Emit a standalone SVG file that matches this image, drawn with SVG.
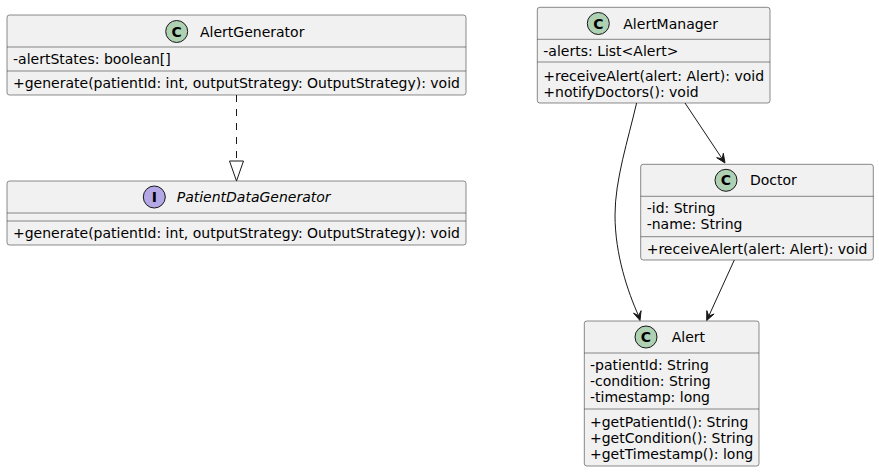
<svg xmlns="http://www.w3.org/2000/svg" width="879" height="472" viewBox="0 0 879 472">
<style>
.box{fill:#F1F1F1;stroke:#181818;stroke-width:0.5}
.sep{stroke:#181818;stroke-width:0.5}
.name{font-family:"DejaVu Sans",sans-serif;font-size:14px;fill:#000}
.mem{font-family:"DejaVu Sans",sans-serif;font-size:14px;fill:#000}
.ci{stroke:#181818;stroke-width:1}
.cl{fill:#ADD1B2}
.it{fill:#B4A7E5}
.glyph{font-family:"DejaVu Sans",sans-serif;font-size:14px;font-weight:bold;fill:#000;text-anchor:middle}
.edge{fill:none;stroke:#181818;stroke-width:1}
.head{fill:#181818;stroke:#181818;stroke-width:1}
</style>
<rect width="879" height="472" fill="#FFFFFF"/>
<g id="AlertGenerator">
<rect class="box" x="7" y="15" width="459" height="80" rx="2.5"/>
<circle class="ci cl" cx="176.7" cy="31.5" r="11"/>
<text class="glyph" x="176.7" y="36.5">C</text>
<text class="name" x="200" y="36.5">AlertGenerator</text>
<line class="sep" x1="7" y1="47" x2="466" y2="47"/>
<text class="mem" x="13" y="64">-alertStates: boolean[]</text>
<line class="sep" x1="7" y1="71" x2="466" y2="71"/>
<text class="mem" x="13" y="88">+generate(patientId: int, outputStrategy: OutputStrategy): void</text>
</g>
<g id="PatientDataGenerator">
<rect class="box" x="7" y="181" width="459" height="64" rx="2.5"/>
<circle class="ci it" cx="154.3" cy="197" r="11"/>
<text class="glyph" x="154.3" y="202">I</text>
<text class="name" x="176.7" y="202" font-style="italic">PatientDataGenerator</text>
<line class="sep" x1="7" y1="213" x2="466" y2="213"/>
<line class="sep" x1="7" y1="221" x2="466" y2="221"/>
<text class="mem" x="13" y="238">+generate(patientId: int, outputStrategy: OutputStrategy): void</text>
</g>
<g id="AlertManager">
<rect class="box" x="537.3" y="7.3" width="232.7" height="95.7" rx="2.5"/>
<circle class="ci cl" cx="598.3" cy="23.5" r="11"/>
<text class="glyph" x="598.3" y="28.5">C</text>
<text class="name" x="623.3" y="28.5">AlertManager</text>
<line class="sep" x1="537.3" y1="39.3" x2="770" y2="39.3"/>
<text class="mem" x="543.3" y="56">-alerts: List&lt;Alert&gt;</text>
<line class="sep" x1="537.3" y1="62" x2="770" y2="62"/>
<text class="mem" x="543.3" y="80.5">+receiveAlert(alert: Alert): void</text>
<text class="mem" x="543.3" y="96.5">+notifyDoctors(): void</text>
</g>
<g id="Doctor">
<rect class="box" x="640.7" y="164.3" width="232.6" height="95.7" rx="2.5"/>
<circle class="ci cl" cx="726" cy="180.3" r="11"/>
<text class="glyph" x="726" y="185.3">C</text>
<text class="name" x="750" y="185.3">Doctor</text>
<line class="sep" x1="640.7" y1="196.3" x2="873.3" y2="196.3"/>
<text class="mem" x="646.7" y="212.8">-id: String</text>
<text class="mem" x="646.7" y="228.8">-name: String</text>
<line class="sep" x1="640.7" y1="236.7" x2="873.3" y2="236.7"/>
<text class="mem" x="646.7" y="253.5">+receiveAlert(alert: Alert): void</text>
</g>
<g id="Alert">
<rect class="box" x="584.3" y="321" width="174.7" height="145" rx="2.5"/>
<circle class="ci cl" cx="646" cy="337" r="11"/>
<text class="glyph" x="646" y="342">C</text>
<text class="name" x="671.7" y="342">Alert</text>
<line class="sep" x1="584.3" y1="353" x2="759" y2="353"/>
<text class="mem" x="590" y="370">-patientId: String</text>
<text class="mem" x="590" y="386">-condition: String</text>
<text class="mem" x="590" y="402">-timestamp: long</text>
<line class="sep" x1="584.3" y1="409" x2="759" y2="409"/>
<text class="mem" x="590" y="427">+getPatientId(): String</text>
<text class="mem" x="590" y="443">+getCondition(): String</text>
<text class="mem" x="590" y="459">+getTimestamp(): long</text>
</g>
<g id="connectors">
<line class="edge" x1="236.5" y1="95" x2="236.5" y2="161" stroke-dasharray="7,7"/>
<polygon class="edge" points="229.5,161 243.5,161 236.5,181"/>
<line class="edge" x1="685" y1="103" x2="722.2" y2="158.8"/>
<polygon class="head" points="725,163 716.7,157.7 722.2,158.8 723.3,153.3"/>
<path class="edge" d="M636.6,103 C628,140 615,180 615,215 C615,255 628,292 638.5,315.7"/>
<polygon class="head" points="640,320.5 633.5,313.1 638.5,315.7 641.1,310.7"/>
<line class="edge" x1="734.3" y1="260" x2="708.8" y2="316"/>
<polygon class="head" points="706.7,320.5 706.8,310.6 708.8,316 714.1,314"/>
</g>
</svg>
